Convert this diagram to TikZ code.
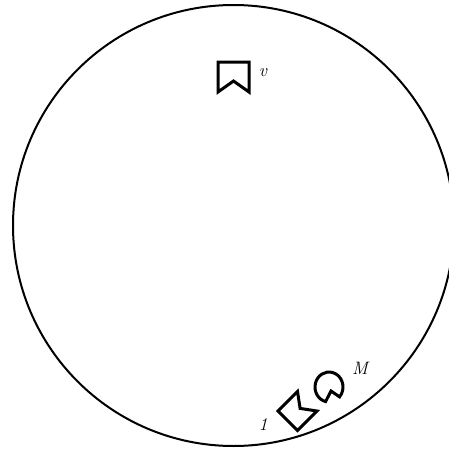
\documentclass[tikz,border=0pt]{standalone}
\usepackage{tikz}
\usetikzlibrary{positioning}

\begin{document}
\begin{tikzpicture}[
        x=1pt,
        y=-1pt,
        rim/.style={line width=2pt, black},
        glyph/.style={line width=3pt, black, line join=miter},
        tag/.style={font=\fontsize{18}{20}\selectfont\itshape, inner sep=0pt}
    ]
        \useasboundingbox (0,0) rectangle (449,450);

        % Outer disc, slightly cut at the right edge.
        \draw[rim] (233.5,225.5) circle (220.5);

        % Top marker with its label.
        \draw[glyph] (218,62) -- (249,62) -- (249,92) -- (233.5,81) -- (218,92) -- cycle;
        \node[tag] (topmark) at (263,73) {v};

        % Bottom markers: rotated bookmark and notched disc.
        \begin{scope}[shift={(297.5,411)}, rotate=135, scale=0.92]
            \draw[glyph] (-15,-15) -- (15,-15) -- (15,15) -- (0,4) -- (-15,15) -- cycle;
        \end{scope}
        \begin{scope}[shift={(329,388)}]
            \draw[glyph] (104:14) arc[start angle=104, end angle=401, x radius=14, y radius=15] -- (2,3) -- cycle;
        \end{scope}
        \node[tag] (onemark) at (263,425) {1};
        \node[tag] (bigmark) at (360,368) {M};
    \end{tikzpicture}
\end{document}
